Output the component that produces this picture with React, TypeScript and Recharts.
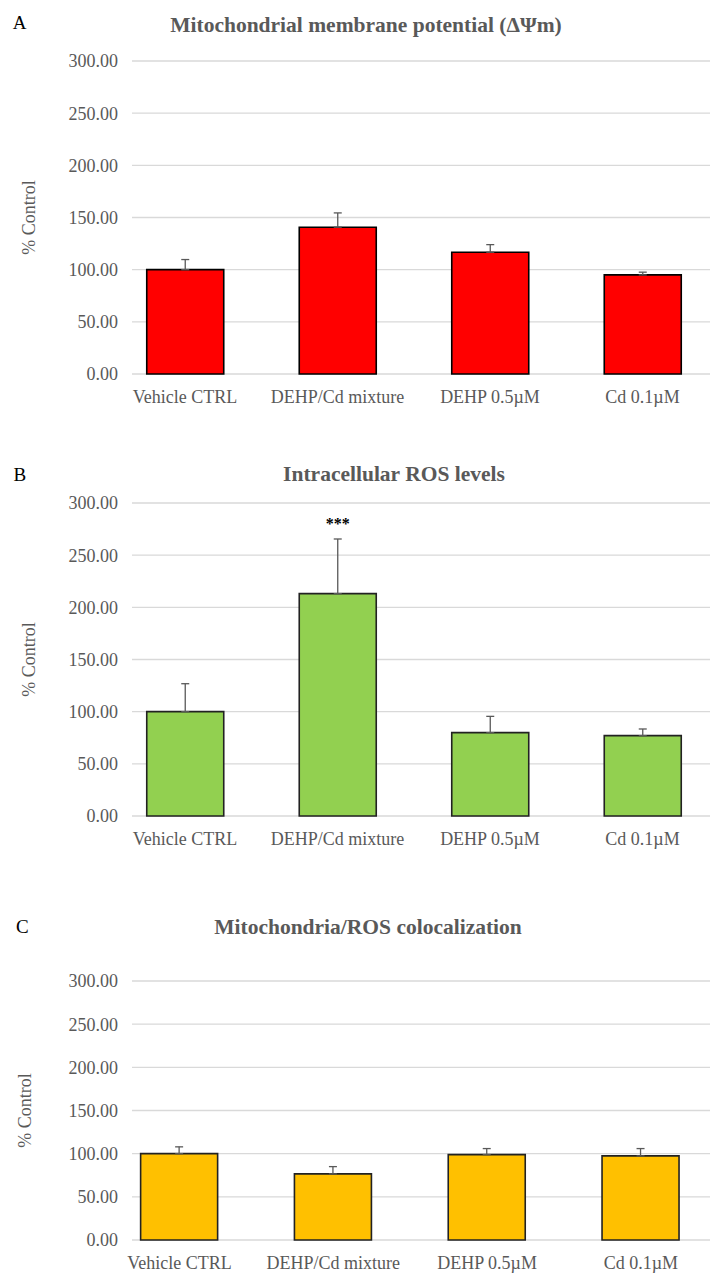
import React from "react"
import { BarChart, Bar, XAxis, YAxis, CartesianGrid, ErrorBar, LabelList } from "recharts"

const categories = ["Vehicle CTRL", "DEHP/Cd mixture", "DEHP 0.5µM", "Cd 0.1µM"]
const yTicks = [0, 50, 100, 150, 200, 250, 300]

// A: mitochondrial membrane potential
const mmpMean = [100, 140.7, 116.7, 95.0]
const mmpErr = [9.7, 13.7, 7.3, 2.6]
// B: intracellular ROS
const rosMean = [100, 213.1, 79.9, 77.0]
const rosErr = [26.8, 52.4, 15.6, 6.4]
const rosSig = ["", "***", "", ""]
// C: mitochondria/ROS colocalization
const colocMean = [100, 76.6, 98.9, 97.4]
const colocErr = [7.9, 8.4, 7.0, 8.5]

const FONT = '"Liberation Serif", "Times New Roman", serif'
const GRAY = "#595959"

type PanelProps = {
  mean: number[]
  err: number[]
  sig?: string[]
  fill: string
  stroke: string
  top: number
  height: number
  marginTop: number
  plotHeight: number
  xAxisHeight: number
  xDomain: [number, number]
  labelX: number
}

function Panel({ mean, err, sig, fill, stroke, top, height, marginTop, plotHeight, xAxisHeight, xDomain, labelX }: PanelProps) {
  const data = categories.map((name, i) => ({
    pos: i,
    name,
    value: mean[i],
    err: [0, err[i]],
    sig: sig ? sig[i] : "",
  }))
  const midY = marginTop + plotHeight / 2

  return (
    <div style={{ position: "absolute", left: 0, top }}>
      <BarChart
        width={710}
        height={height}
        data={data}
        margin={{ top: marginTop, right: 0, left: 0, bottom: height - marginTop - plotHeight - xAxisHeight }}
      >
        <CartesianGrid vertical={false} stroke="#d9d9d9" strokeWidth={1.3} />
        <XAxis
          type="number"
          dataKey="pos"
          domain={xDomain}
          ticks={[0, 1, 2, 3]}
          interval={0}
          allowDataOverflow
          tickFormatter={(v: number) => categories[v] ?? ""}
          axisLine={false}
          tickLine={false}
          tickSize={0}
          tickMargin={16}
          height={xAxisHeight}
          tick={{ fill: GRAY, fontSize: 18, fontFamily: FONT }}
        />
        <YAxis
          domain={[0, 300]}
          ticks={yTicks}
          interval={0}
          width={132}
          axisLine={false}
          tickLine={false}
          tickSize={0}
          tickMargin={14}
          tickFormatter={(v: number) => v.toFixed(2)}
          tick={{ fill: GRAY, fontSize: 18, fontFamily: FONT }}
          label={{
            content: () => (
              <text
                x={labelX}
                y={midY}
                transform={`rotate(-90, ${labelX}, ${midY})`}
                textAnchor="middle"
                fill={GRAY}
                fontSize={18}
                fontFamily={FONT}
              >
                % Control
              </text>
            ),
          }}
        />
        <Bar dataKey="value" fill={fill} stroke={stroke} strokeWidth={1.6} barSize={77} isAnimationActive={false}>
          <ErrorBar dataKey="err" width={4} stroke={GRAY} strokeWidth={1.3} direction="y" />
          {sig && (
            <LabelList
              dataKey="sig"
              content={(p: any) => {
                if (!p.value) return null
                const errTop = p.y - (err[p.index] * plotHeight) / 300
                return (
                  <text
                    x={p.x + p.width / 2}
                    y={errTop - 9.5}
                    textAnchor="middle"
                    fontSize={16}
                    fontWeight="bold"
                    fontFamily={FONT}
                    fill="#000"
                  >
                    {p.value}
                  </text>
                )
              }}
            />
          )}
        </Bar>
      </BarChart>
    </div>
  )
}

export default function App() {
  return (
    <div style={{ position: "absolute", left: 0, top: 0, width: 710, height: 1273, background: "#fff", overflow: "hidden" }}>
      <Panel
        mean={mmpMean}
        err={mmpErr}
        fill="#ff0000"
        stroke="#000"
        top={0}
        height={420}
        marginTop={61}
        plotHeight={313}
        xAxisHeight={40}
        xDomain={[-0.3475, 3.4426]}
        labelX={35}
      />
      <Panel
        mean={rosMean}
        err={rosErr}
        sig={rosSig}
        fill="#92d050"
        stroke="#222"
        top={440}
        height={430}
        marginTop={63}
        plotHeight={313}
        xAxisHeight={40}
        xDomain={[-0.3475, 3.4426]}
        labelX={35}
      />
      <Panel
        mean={colocMean}
        err={colocErr}
        fill="#ffc000"
        stroke="#222"
        top={880}
        height={393}
        marginTop={101}
        plotHeight={259}
        xAxisHeight={33}
        xDomain={[-0.309, 3.449]}
        labelX={31}
      />
      <svg width={710} height={1273} style={{ position: "absolute", left: 0, top: 0, pointerEvents: "none" }}>
        <g fontFamily={FONT}>
          <text x={12.7} y={29.3} fontSize={19} fill="#000">A</text>
          <text x={366} y={31.7} fontSize={21.5} fontWeight="bold" fill={GRAY} textAnchor="middle">
            Mitochondrial membrane potential (ΔΨm)
          </text>
          <text x={13.6} y={481} fontSize={19} fill="#000">B</text>
          <text x={394} y={480.5} fontSize={21.5} fontWeight="bold" fill={GRAY} textAnchor="middle">
            Intracellular ROS levels
          </text>
          <text x={16} y={932.7} fontSize={19} fill="#000">C</text>
          <text x={368} y={934} fontSize={21.5} fontWeight="bold" fill={GRAY} textAnchor="middle">
            Mitochondria/ROS colocalization
          </text>
        </g>
      </svg>
    </div>
  )
}
